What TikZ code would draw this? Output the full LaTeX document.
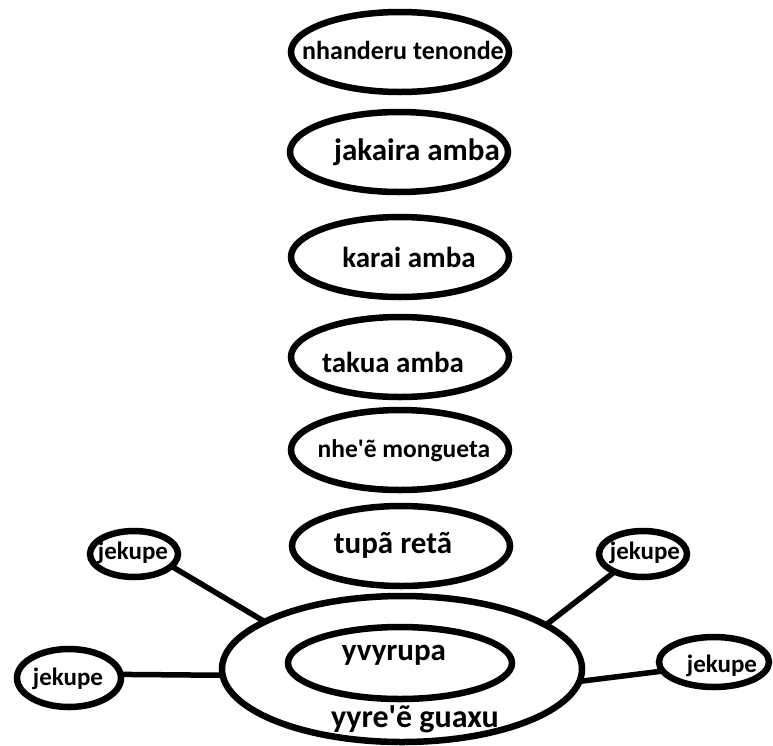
\documentclass[tikz,border=0pt]{standalone}
\usepackage{fontspec}
\newfontfamily\cf{Carlito}
\usetikzlibrary{shapes.geometric}
\tikzset{
  ring/.style={draw=black, line width=6.5pt, ellipse, inner sep=0pt, outer sep=0pt},
  bubble/.style={ring, minimum width=218pt, minimum height=80pt},
  lbl/.style={anchor=base, inner sep=0pt, text=black, font=\cf\bfseries},
  link/.style={draw=black, line width=5.5pt},
}
\newcommand{\fs}[1]{\fontsize{#1}{#1}\selectfont}
\begin{document}
\begin{tikzpicture}[x=1pt,y=-1pt]
\useasboundingbox (0,0) rectangle (773,745);
% vertical stack
\node[bubble] (e1) at (400,52) {};
\node[bubble] (e2) at (399,152) {};
\node[bubble] (e3) at (400,257) {};
\node[bubble] (e4) at (400,357) {};
\node[bubble] (e5) at (400,450) {};
\node[bubble] (e6) at (401,546) {};
% big ellipse and inner
\node[ring, minimum width=360pt, minimum height=146pt] (big) at (402,669) {};
\node[ring, minimum width=224pt, minimum height=72pt] (in) at (400,663) {};
% small jekupe
\node[ring, minimum width=88pt, minimum height=46pt] (ul) at (134,554) {};
\node[ring, minimum width=104pt, minimum height=58pt] (ll) at (69,678) {};
\node[ring, minimum width=88pt, minimum height=46pt] (ur) at (643,554) {};
\node[ring, minimum width=110pt, minimum height=50pt] (lr) at (714,662) {};
% labels
\node[lbl, font=\cf\bfseries\fs{26}] (t1) at (403,59) {nhanderu tenonde};
\node[lbl, font=\cf\bfseries\fs{31}] (t2) at (417,160) {jakaira amba};
\node[lbl, font=\cf\bfseries\fs{29}] (t3) at (409,267) {karai amba};
\node[lbl, font=\cf\bfseries\fs{29}] (t4) at (393,372) {takua amba};
\node[lbl, font=\cf\bfseries\fs{25.5}] (t5) at (404,457) {nhe\textquotesingle ẽ mongueta};
\node[lbl, font=\cf\bfseries\fs{31}] (t6) at (393,553) {tupã retã};
\node[lbl, font=\cf\bfseries\fs{31}] (t7) at (394,660) {yvyrupa};
\node[lbl, font=\cf\bfseries\fs{32}] (t8) at (415,727) {yyre\textquotesingle ẽ guaxu};
\node[lbl, font=\cf\bfseries\fs{25}] (j1) at (133,559) {jekupe};
\node[lbl, font=\cf\bfseries\fs{25}] (j2) at (68,685) {jekupe};
\node[lbl, font=\cf\bfseries\fs{25}] (j3) at (645,559) {jekupe};
\node[lbl, font=\cf\bfseries\fs{25}] (j4) at (722,672) {jekupe};
% connectors
\draw[link] (ul.-18) -- (big.161);
\draw[link] (ll.4) -- (big.182);
\draw[link] (ur.212) -- (big.17);
\draw[link] (lr.190) -- (big.-4);
\end{tikzpicture}
\end{document}
